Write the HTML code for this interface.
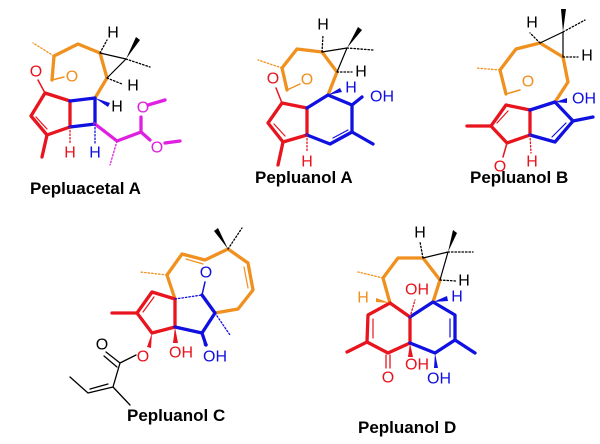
<!DOCTYPE html><html><head><style>body{margin:0;background:#fff}svg{display:block}</style></head><body>
<svg width="600" height="444" viewBox="0 0 600 444" xmlns="http://www.w3.org/2000/svg" font-family="Liberation Sans, sans-serif" stroke-linejoin="round" stroke-linecap="round">
<g fill="none" stroke-width="3.3">
<polyline stroke="#f0901e" points="52,80 54,56 78,44 100,53 107,78 95,98"/>
<polyline stroke="#000" stroke-width="1.2" points="100,53 126,59 107,78"/>
<polyline stroke="#e8141e" points="45,93 70,101 70,127 47,135 31,116 45,93"/>
<line stroke="#e8141e" x1="47" y1="135" x2="42" y2="157"/>
<line stroke="#e8141e" stroke-width="1.2" x1="36" y1="117" x2="47" y2="129"/>
<line stroke="#e8141e" stroke-width="1.5" x1="45" y1="93" x2="38" y2="80"/>
<polyline stroke="#1010e0" points="70,101 95,98 95,124 70,127"/>
<polyline stroke="#e020e0" points="95,124 117,141 141,132 141,117"/>
<line stroke="#e020e0" x1="148" y1="105" x2="165" y2="100"/>
<line stroke="#e020e0" x1="141" y1="132" x2="150" y2="140"/>
<line stroke="#e020e0" x1="165" y1="143" x2="180" y2="141"/>
<line stroke="#f0901e" stroke-width="1.5" x1="52" y1="80" x2="64" y2="77"/>
<polyline stroke="#f0901e" points="287,90 282,68 297,49 322,52 337,72 328,95"/>
<polyline stroke="#000" stroke-width="1.2" points="322,52 347,48 337,72"/>
<polyline stroke="#e8141e" points="282,103 307,108 307,135 283,142 268,123 282,103"/>
<line stroke="#e8141e" stroke-width="1.2" x1="274" y1="124" x2="285" y2="136"/>
<line stroke="#e8141e" x1="283" y1="142" x2="278" y2="165"/>
<line stroke="#e8141e" stroke-width="1.5" x1="282" y1="103" x2="276" y2="88"/>
<polyline stroke="#1010e0" points="307,108 328,95 352,105 352,132 330,144 307,135"/>
<line stroke="#1010e0" stroke-width="1.2" x1="333" y1="138" x2="348" y2="130"/>
<line stroke="#1010e0" x1="352" y1="132" x2="373" y2="144"/>
<line stroke="#1010e0" x1="352" y1="105" x2="362" y2="97"/>
<line stroke="#f0901e" stroke-width="1.5" x1="287" y1="90" x2="300" y2="84"/>
<polyline stroke="#f0901e" points="506,94 500,70 516,49 540,43 563,57 568,82 555,102"/>
<polyline stroke="#000" stroke-width="1.2" points="540,43 563,32 563,57"/>
<polyline stroke="#e8141e" points="506,105 530,110 530,135 507,143 491,126 506,105"/>
<line stroke="#e8141e" stroke-width="1.2" x1="497" y1="123" x2="508" y2="111"/>
<line stroke="#e8141e" x1="491" y1="126" x2="467" y2="126"/>
<line stroke="#e8141e" stroke-width="1.5" x1="507" y1="143" x2="503" y2="157"/>
<polyline stroke="#1010e0" points="530,110 555,102 573,121 555,142 530,135"/>
<line stroke="#1010e0" stroke-width="1.2" x1="566" y1="123" x2="552" y2="137"/>
<line stroke="#1010e0" x1="573" y1="121" x2="593" y2="117"/>
<line stroke="#f0901e" stroke-width="1.5" x1="506" y1="94" x2="520" y2="90"/>
<polyline stroke="#f0901e" points="175,299 167,275 182,254 205,260 228,249 248,263 253,290 238,309 215,313"/>
<line stroke="#f0901e" stroke-width="1.2" x1="186" y1="259" x2="203" y2="264"/>
<line stroke="#f0901e" stroke-width="1.2" x1="244" y1="267" x2="248" y2="288"/>
<polyline stroke="#e8141e" points="175,299 152,292 137,313 152,333 175,327 175,299"/>
<line stroke="#e8141e" stroke-width="1.2" x1="143" y1="312" x2="154" y2="297"/>
<line stroke="#e8141e" x1="137" y1="313" x2="112" y2="313"/>
<polyline stroke="#1010e0" points="175,327 202,333 215,313 202,295"/>
<line stroke="#1010e0" x1="202" y1="333" x2="206" y2="345"/>
<line stroke="#1010e0" stroke-width="1.5" x1="202" y1="295" x2="205" y2="282"/>
<polyline stroke="#000" stroke-width="1.3" points="136,355 120,363 113,387 88,393 70,377"/>
<line stroke="#000" stroke-width="1.3" x1="113" y1="387" x2="130" y2="405"/>
<line stroke="#000" stroke-width="1.3" x1="120" y1="363" x2="106" y2="352"/>
<line stroke="#000" stroke-width="1.3" x1="117" y1="367" x2="104" y2="356"/>
<line stroke="#000" stroke-width="1.2" x1="108" y1="384" x2="90" y2="389"/>
<polyline stroke="#f0901e" points="390,303 383,278 398,258 423,258 440,280 433,302"/>
<polyline stroke="#000" stroke-width="1.2" points="423,258 448,252 440,280"/>
<polyline stroke="#e8141e" points="390,303 368,315 367,342 388,353 410,343 410,317 390,303"/>
<line stroke="#e8141e" stroke-width="1.2" x1="373" y1="319" x2="373" y2="338"/>
<line stroke="#e8141e" x1="367" y1="342" x2="347" y2="352"/>
<line stroke="#e8141e" stroke-width="1.3" x1="386" y1="355" x2="386" y2="368"/>
<line stroke="#e8141e" stroke-width="1.3" x1="390" y1="355" x2="390" y2="368"/>
<polyline stroke="#1010e0" points="410,317 433,302 455,315 455,340 435,353 410,343"/>
<line stroke="#1010e0" stroke-width="1.2" x1="450" y1="319" x2="450" y2="337"/>
<line stroke="#1010e0" x1="455" y1="340" x2="475" y2="353"/>
</g>
<g fill="#000">
<polygon points="126,59 136,37 140,40"/><polygon points="347,48 358,27 362,30"/><polygon points="563,32 561,9 566,9"/>
<polygon points="448,252 453,230 457,233"/><polygon points="228,249 214,231 218,228"/>
</g>
<polygon fill="#1010e0" points="95,98 110,103 108,107"/>
<polygon fill="#1010e0" points="328,95 340,88 342,92"/>
<polygon fill="#1010e0" points="555,102 567,98 567,103"/>
<polygon fill="#1010e0" points="433,302 447,296 448,301"/>
<polygon fill="#1010e0" points="202,333 204,346 208,345"/>
<polygon fill="#1010e0" points="435,353 434,368 438,368"/>
<polygon fill="#e8141e" points="175,327 173,343 178,343"/>
<polygon fill="#e8141e" points="152,333 147,347 151,348"/>
<polygon fill="#e8141e" points="410,343 408,357 413,357"/>
<polygon fill="#f0901e" points="390,303 376,298 376,302"/>
<g stroke-width="1.3">
<line stroke="#000" x1="126" y1="59" x2="150" y2="67" stroke-dasharray="1.5 2"/>
<line stroke="#000" x1="100" y1="53" x2="107" y2="40" stroke-dasharray="1.5 2"/>
<line stroke="#000" x1="107" y1="78" x2="122" y2="84" stroke-dasharray="1.5 2"/>
<line stroke="#f0901e" x1="54" y1="56" x2="33" y2="43" stroke-dasharray="1.5 2"/>
<line stroke="#e8141e" x1="70" y1="127" x2="70" y2="143" stroke-dasharray="1.5 2"/>
<line stroke="#1010e0" x1="95" y1="124" x2="95" y2="143" stroke-dasharray="1.5 2"/>
<line stroke="#e020e0" x1="117" y1="141" x2="110" y2="165" stroke-dasharray="1.5 2"/>
<line stroke="#000" x1="347" y1="48" x2="373" y2="50" stroke-dasharray="1.5 2"/>
<line stroke="#000" x1="322" y1="52" x2="323" y2="35" stroke-dasharray="1.5 2"/>
<line stroke="#000" x1="337" y1="72" x2="352" y2="72" stroke-dasharray="1.5 2"/>
<line stroke="#f0901e" x1="282" y1="68" x2="258" y2="60" stroke-dasharray="1.5 2"/>
<line stroke="#e8141e" x1="307" y1="135" x2="307" y2="152" stroke-dasharray="1.5 2"/>
<line stroke="#000" x1="563" y1="32" x2="585" y2="20" stroke-dasharray="1.5 2"/>
<line stroke="#000" x1="540" y1="43" x2="530" y2="33" stroke-dasharray="1.5 2"/>
<line stroke="#000" x1="563" y1="57" x2="578" y2="57" stroke-dasharray="1.5 2"/>
<line stroke="#f0901e" x1="500" y1="70" x2="476" y2="68" stroke-dasharray="1.5 2"/>
<line stroke="#e8141e" x1="530" y1="135" x2="531" y2="153" stroke-dasharray="1.5 2"/>
<line stroke="#f0901e" x1="167" y1="275" x2="140" y2="272" stroke-dasharray="1.5 2"/>
<line stroke="#000" x1="228" y1="249" x2="242" y2="228" stroke-dasharray="1.5 2"/>
<line stroke="#1010e0" x1="175" y1="299" x2="202" y2="295" stroke-dasharray="1.5 2"/>
<line stroke="#1010e0" x1="215" y1="313" x2="230" y2="335" stroke-dasharray="1.5 2"/>
<line stroke="#000" x1="448" y1="252" x2="473" y2="252" stroke-dasharray="1.5 2"/>
<line stroke="#000" x1="423" y1="258" x2="420" y2="242" stroke-dasharray="1.5 2"/>
<line stroke="#000" x1="440" y1="280" x2="456" y2="281" stroke-dasharray="1.5 2"/>
<line stroke="#f0901e" x1="383" y1="278" x2="358" y2="272" stroke-dasharray="1.5 2"/>
<line stroke="#e8141e" x1="410" y1="317" x2="415" y2="300" stroke-dasharray="1.5 2"/>
</g>
<g font-size="16" text-anchor="middle" dominant-baseline="central">
<text x="113" y="33">H</text><text x="133" y="86">H</text><text x="117" y="107">H</text>
<text x="72" y="77" fill="#f0901e">O</text><text x="36" y="72" fill="#e8141e">O</text>
<text x="70" y="153" fill="#e8141e">H</text><text x="95" y="153" fill="#1010e0">H</text>
<text x="143" y="108" fill="#e020e0">O</text><text x="157" y="148" fill="#e020e0">O</text>
<text x="323" y="25">H</text><text x="361" y="72">H</text><text x="273" y="79" fill="#e8141e">O</text><text x="307" y="80" fill="#f0901e">O</text>
<text x="307" y="162" fill="#e8141e">H</text><text x="351" y="88" fill="#1010e0">H</text><text x="382" y="97" fill="#1010e0">OH</text>
<text x="532" y="23">H</text><text x="587" y="56">H</text><text x="528" y="82" fill="#f0901e">O</text>
<text x="500" y="167" fill="#e8141e">O</text><text x="532" y="162" fill="#e8141e">H</text><text x="584" y="99" fill="#1010e0">OH</text>
<text x="206" y="273" fill="#1010e0">O</text><text x="181" y="353" fill="#e8141e">OH</text><text x="215" y="357" fill="#1010e0">OH</text>
<text x="143" y="357" fill="#e8141e">O</text><text x="102" y="345">O</text>
<text x="420" y="233">H</text><text x="464" y="281">H</text><text x="363" y="298" fill="#f0901e">H</text>
<text x="457" y="297" fill="#1010e0">H</text><text x="417" y="290" fill="#e8141e">OH</text>
<text x="417" y="365" fill="#e8141e">OH</text><text x="388" y="378" fill="#e8141e">O</text><text x="439" y="379" fill="#1010e0">OH</text>
</g>
<g font-size="17" font-weight="bold">
<text x="30" y="194">Pepluacetal A</text>
<text x="255" y="183">Pepluanol A</text>
<text x="470" y="183">Pepluanol B</text>
<text x="127" y="421">Pepluanol C</text>
<text x="358" y="433">Pepluanol D</text>
</g>
</svg>
</body></html>
